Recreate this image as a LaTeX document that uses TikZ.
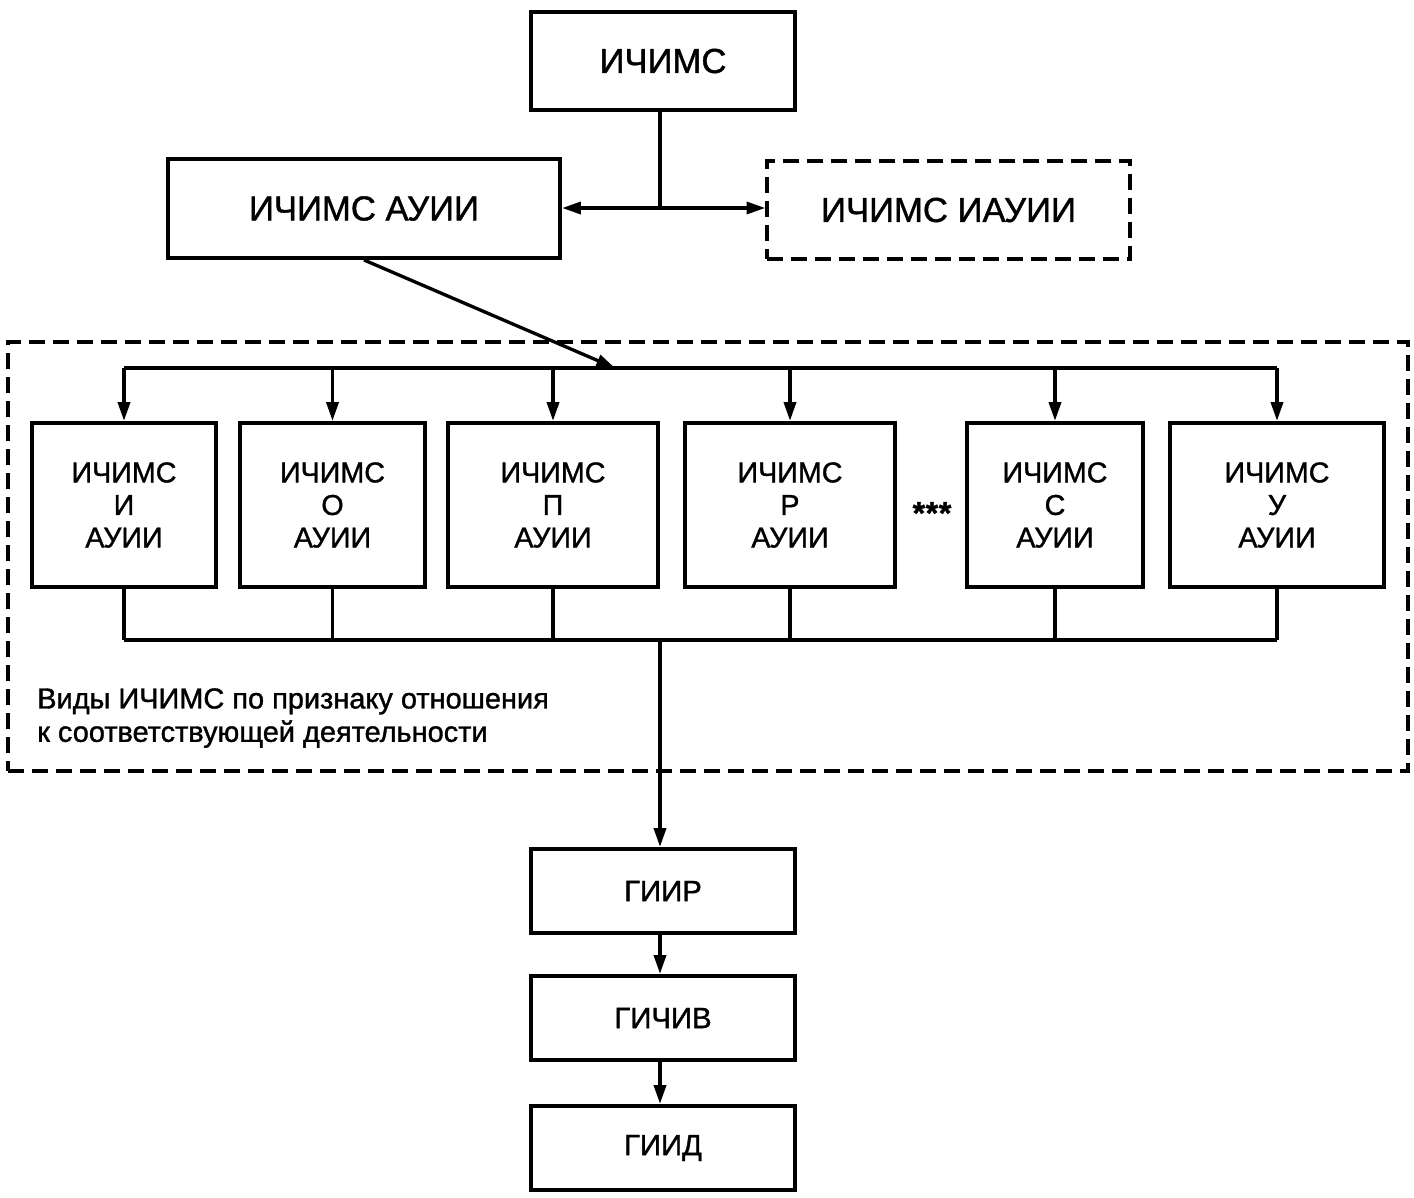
\documentclass[tikz,border=0pt]{standalone}
\usepackage{fontspec}
\setmainfont{Liberation Sans}[FakeBold=1.5]
\newfontfamily\heavyfont{Liberation Sans}[FakeBold=1.2]
\usetikzlibrary{arrows.meta}
\begin{document}
\begin{tikzpicture}[x=0.75pt,y=-0.75pt,
  box/.style={draw,line width=3.2pt,minimum width=#1*0.75pt,inner sep=0pt},
  bigtxt/.style={font=\heavyfont\fontsize{26}{30}\selectfont},
  midtxt/.style={font=\heavyfont\fontsize{21.5}{24.4}\selectfont,align=center},
  lowtxt/.style={font=\heavyfont\fontsize{22}{26}\selectfont},
  conn/.style={line width=2.5pt},
  arr/.style={conn,-{Triangle[length=14pt,width=9pt]}},
  dsh/.style={line width=2.6pt,dash pattern=on 12pt off 6pt}]
\useasboundingbox (0,0) rectangle (1414,1197);
% top level
\node[box=264,minimum height=73.5pt,bigtxt] (top) at (663,61) {ИЧИМС};
\node[box=392,minimum height=74pt,bigtxt] (aui) at (364,208.5) {ИЧИМС АУИИ};
\node[box=363,minimum height=73.5pt,bigtxt,dsh] (iaui) at (948.5,210) {ИЧИМС ИАУИИ};
\coordinate (j1) at (660,208);
\draw[conn] (top.south -| j1) -- (j1);
\draw[arr] (j1) -- (aui.east |- j1);
\draw[arr] (j1) -- (iaui.west |- j1);
% region
\node[draw,dsh,minimum width=1050pt,minimum height=321.75pt,inner sep=0pt] (region) at (708,556.5) {};
% second level boxes
\foreach \n/\cx/\w/\l in {a/124/184/И,b/332.5/185/О,c/553/210/П,d/790/210/Р,e/1055/176/С,f/1277/214/У}{
  \node[box=\w,minimum height=123pt,midtxt] (\n) at (\cx,505) {ИЧИМС\\\l\\АУИИ};
}
\node[font=\heavyfont\bfseries\fontsize{24}{28}\selectfont] (dots) at (932,513) {*\kern0.5pt*\kern0.5pt*};
% upper bus
\coordinate (busL) at (124,368);
\coordinate (busR) at (1277,368);
\coordinate (busIn) at (615,368);
\draw[arr] (aui.south) -- (busIn);
\draw[conn] (busL) -- (busR);
\foreach \n in {a,b,c,d,e,f}{
  \draw[arr] (\n.north |- busL) -- (\n.north);
}
% lower bus
\coordinate (lbL) at (124,640);
\coordinate (lbR) at (1277,640);
\coordinate (lbM) at (660,640);
\draw[conn] (lbL) -- (lbR);
\foreach \n in {a,b,c,d,e,f}{
  \draw[conn] (\n.south) -- (\n.south |- lbL);
}
\node[font=\heavyfont\fontsize{21.7}{25}\selectfont,align=left,anchor=north west,inner sep=0pt] (cap) at (37,688)
  {Виды ИЧИМС по признаку отношения\\к соответствующей деятельности};
% bottom chain
\node[box=264,minimum height=63pt,lowtxt] (g1) at (663,891) {ГИИР};
\node[box=264,minimum height=63pt,lowtxt] (g2) at (663,1018) {ГИЧИВ};
\node[box=264,minimum height=63pt,lowtxt] (g3) at (663,1148) {ГИИД};
\draw[arr] (lbM) -- (lbM |- g1.north);
\draw[arr] (g1.south -| lbM) -- (g2.north -| lbM);
\draw[arr] (g2.south -| lbM) -- (g3.north -| lbM);
\end{tikzpicture}
\end{document}
